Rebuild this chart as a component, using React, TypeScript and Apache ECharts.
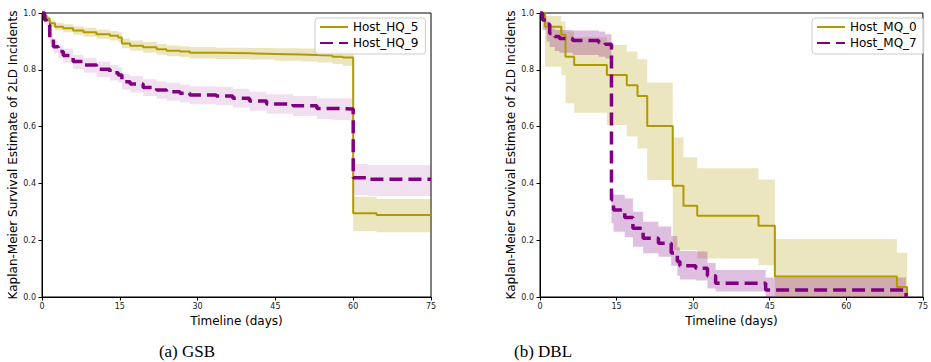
import React, { useEffect, useRef } from "react";
import * as echarts from "echarts";

// ---- GSB (left) ----
const gsbHQ5T = [0, 0.5, 0.9, 1.5, 2.5, 4.1, 6.0, 8.0, 10.5, 13.1, 14.7, 15.4, 17.0, 19.5, 22.1, 24.0, 26.6, 28.5, 33.6, 40.0, 45.0, 50.0, 53.0, 56.0, 58.0, 60.0, 64.5, 75.0];
const gsbHQ5S = [1.0, 0.99, 0.981, 0.964, 0.952, 0.946, 0.938, 0.932, 0.925, 0.92, 0.914, 0.893, 0.885, 0.879, 0.872, 0.867, 0.864, 0.86, 0.858, 0.856, 0.854, 0.852, 0.85, 0.846, 0.843, 0.295, 0.289, 0.289];
const gsbHQ5Lo = [1.0, 0.985, 0.972, 0.952, 0.938, 0.932, 0.923, 0.916, 0.909, 0.903, 0.897, 0.876, 0.867, 0.86, 0.853, 0.848, 0.845, 0.84, 0.838, 0.835, 0.832, 0.829, 0.826, 0.82, 0.814, 0.232, 0.228, 0.228];
const gsbHQ5Hi = [1.0, 0.995, 0.99, 0.976, 0.966, 0.96, 0.953, 0.948, 0.941, 0.937, 0.931, 0.91, 0.903, 0.898, 0.891, 0.886, 0.883, 0.88, 0.878, 0.877, 0.876, 0.875, 0.874, 0.872, 0.871, 0.353, 0.345, 0.345];

const gsbHQ9T = [0, 0.5, 0.9, 1.5, 2.2, 3.1, 4.1, 6.0, 8.0, 10.5, 13.1, 14.7, 15.4, 17.0, 19.5, 22.1, 24.0, 26.6, 28.5, 33.6, 36.8, 40.0, 43.3, 48.4, 53.0, 56.0, 60.0, 62.9, 75.0];
const gsbHQ9S = [1.0, 0.975, 0.958, 0.911, 0.881, 0.864, 0.85, 0.829, 0.817, 0.802, 0.79, 0.782, 0.758, 0.75, 0.738, 0.729, 0.723, 0.717, 0.711, 0.708, 0.70, 0.69, 0.68, 0.673, 0.664, 0.662, 0.42, 0.415, 0.415];
const gsbHQ9Lo = [1.0, 0.96, 0.94, 0.89, 0.858, 0.84, 0.825, 0.803, 0.79, 0.775, 0.762, 0.754, 0.73, 0.72, 0.708, 0.698, 0.691, 0.685, 0.679, 0.675, 0.667, 0.656, 0.645, 0.637, 0.627, 0.623, 0.359, 0.356, 0.356];
const gsbHQ9Hi = [1.0, 0.99, 0.975, 0.93, 0.902, 0.886, 0.874, 0.853, 0.842, 0.828, 0.817, 0.809, 0.785, 0.778, 0.767, 0.759, 0.754, 0.748, 0.742, 0.74, 0.733, 0.723, 0.714, 0.708, 0.7, 0.7, 0.468, 0.465, 0.465];

// ---- DBL (right) ----
const dblMQ0T = [0, 0.96, 4.17, 5.0, 6.7, 13.1, 17.0, 19.1, 21.0, 26.0, 28.1, 30.8, 42.8, 46.0, 69.9, 71.9];
const dblMQ0S = [1.0, 0.952, 0.923, 0.846, 0.817, 0.782, 0.746, 0.708, 0.602, 0.392, 0.321, 0.286, 0.251, 0.072, 0.035, 0.0];
const dblMQ0Lo = [1.0, 0.811, 0.782, 0.682, 0.649, 0.606, 0.565, 0.523, 0.412, 0.165, 0.165, 0.136, 0.112, 0.0, 0.0, 0.0];
const dblMQ0Hi = [1.0, 0.989, 0.97, 0.935, 0.915, 0.887, 0.864, 0.837, 0.755, 0.562, 0.492, 0.453, 0.414, 0.204, 0.156, 0.0];

const dblMQ7T = [0, 0.5, 1.28, 1.9, 2.9, 3.8, 6.4, 11.5, 12.8, 14.0, 14.4, 16.6, 18.2, 20.2, 23.2, 25.7, 26.9, 27.4, 30.5, 32.8, 34.4, 44.2, 71.7];
const dblMQ7S = [1.0, 0.975, 0.96, 0.928, 0.917, 0.91, 0.903, 0.896, 0.89, 0.342, 0.306, 0.28, 0.242, 0.207, 0.189, 0.155, 0.125, 0.11, 0.101, 0.075, 0.048, 0.025, 0.0];
const dblMQ7Lo = [1, 0.94, 0.9, 0.88, 0.866, 0.86, 0.852, 0.846, 0.84, 0.26, 0.23, 0.21, 0.177, 0.154, 0.142, 0.11, 0.075, 0.062, 0.058, 0.03, 0.019, 0.0, 0];
const dblMQ7Hi = [1, 0.99, 0.97, 0.945, 0.94, 0.94, 0.938, 0.935, 0.925, 0.365, 0.36, 0.347, 0.3, 0.265, 0.248, 0.215, 0.175, 0.162, 0.16, 0.12, 0.095, 0.069, 0];

const xTicks = { min: 0, max: 75, interval: 15 };
const yTicks = { min: 0, max: 1, interval: 0.2 };
const captions = ["(a) GSB", "(b) DBL"];

const OLIVE = "#b09a00";
const PURPLE = "#800080";
const FONT = "DejaVu Sans";

function zip(t: number[], v: number[]) {
  return t.map((x, i) => [x, v[i]]);
}

// Confidence band drawn as one step-shaped polygon through the axis scales.
function bandSeries(id: string, t: number[], lo: number[], hi: number[], color: string, idx: number) {
  return {
    name: id,
    type: "custom",
    xAxisIndex: idx,
    yAxisIndex: idx,
    silent: true,
    clip: true,
    encode: { x: 0, y: [1, 2] },
    data: t.map((x, i) => [x, lo[i], hi[i]]),
    renderItem: (params: any, api: any) => {
      if (params.dataIndex !== 0) return null;
      const pts: number[][] = [];
      for (let i = 0; i < t.length; i++) {
        const tNext = i + 1 < t.length ? t[i + 1] : t[i];
        pts.push(api.coord([t[i], hi[i]]));
        pts.push(api.coord([tNext, hi[i]]));
      }
      for (let i = t.length - 1; i >= 0; i--) {
        const tNext = i + 1 < t.length ? t[i + 1] : t[i];
        pts.push(api.coord([tNext, lo[i]]));
        pts.push(api.coord([t[i], lo[i]]));
      }
      return {
        type: "polygon",
        shape: { points: pts },
        style: { fill: color, stroke: "none" },
      };
    },
  };
}

function mainSeries(name: string, t: number[], s: number[], color: string, dashed: boolean, idx: number) {
  return {
    name,
    type: "line",
    xAxisIndex: idx,
    yAxisIndex: idx,
    step: "end",
    symbol: "none",
    showSymbol: false,
    clip: false,
    color,
    lineStyle: dashed ? { color, width: 3.5, type: [13, 6] } : { color, width: 2, type: "solid" },
    itemStyle: { color },
    data: zip(t, s),
  };
}

function axisX(idx: number) {
  return {
    gridIndex: idx,
    type: "value",
    ...xTicks,
    name: "Timeline (days)",
    nameLocation: "middle",
    nameGap: 15,
    nameTextStyle: { fontSize: 12, color: "#000", fontFamily: FONT },
    axisLine: { show: true, onZero: false, lineStyle: { color: "#000", width: 1 } },
    axisTick: { show: true, length: 3.5, lineStyle: { color: "#000", width: 1 } },
    axisLabel: { fontSize: 8, color: "#222", margin: 5, fontFamily: FONT },
    splitLine: { show: false },
  };
}

function axisY(idx: number) {
  return {
    gridIndex: idx,
    type: "value",
    ...yTicks,
    name: "Kaplan-Meier Survival Estimate of 2LD Incidents",
    nameLocation: "middle",
    nameGap: 22,
    nameTextStyle: { fontSize: 12, color: "#000", fontFamily: FONT },
    axisLine: { show: true, onZero: false, lineStyle: { color: "#000", width: 1 } },
    axisTick: { show: true, length: 3.5, lineStyle: { color: "#000", width: 1 } },
    axisLabel: { fontSize: 8, color: "#222", margin: 6, fontFamily: FONT, formatter: (v: number) => v.toFixed(1) },
    splitLine: { show: false },
  };
}

function legend(names: string[], left: number) {
  return {
    data: names,
    left,
    top: 18,
    orient: "vertical",
    itemWidth: 28,
    itemHeight: 14,
    itemGap: 4,
    padding: [3, 7, 5, 4],
    backgroundColor: "rgba(255,255,255,0.8)",
    borderColor: "#cccccc",
    borderWidth: 1,
    borderRadius: 3,
    itemStyle: { opacity: 0 },
    textStyle: { fontSize: 12, color: "#000", fontFamily: FONT },
    selectedMode: false,
  };
}

export default function App() {
  const ref = useRef<HTMLDivElement>(null);
  useEffect(() => {
    if (!ref.current) return;
    const chart = echarts.init(ref.current, undefined, { renderer: "svg" });
    const option = {
      animation: false,
      backgroundColor: "#fff",
      grid: [
        { left: 42, top: 13, width: 389, height: 284, show: true, borderColor: "#000", borderWidth: 1, backgroundColor: "transparent" },
        { left: 540, top: 13, width: 390, height: 284, show: true, borderColor: "#000", borderWidth: 1, backgroundColor: "transparent" },
      ],
      xAxis: [axisX(0), axisX(1)],
      yAxis: [axisY(0), axisY(1)],
      legend: [legend(["Host_HQ_5", "Host_HQ_9"], 315), legend(["Host_MQ_0", "Host_MQ_7"], 812)],
      series: [
        bandSeries("bandHQ5", gsbHQ5T, gsbHQ5Lo, gsbHQ5Hi, "rgba(176,154,0,0.25)", 0),
        bandSeries("bandHQ9", gsbHQ9T, gsbHQ9Lo, gsbHQ9Hi, "rgba(128,0,128,0.12)", 0),
        mainSeries("Host_HQ_5", gsbHQ5T, gsbHQ5S, OLIVE, false, 0),
        mainSeries("Host_HQ_9", gsbHQ9T, gsbHQ9S, PURPLE, true, 0),
        bandSeries("bandMQ0", dblMQ0T, dblMQ0Lo, dblMQ0Hi, "rgba(176,154,0,0.25)", 1),
        bandSeries("bandMQ7", dblMQ7T, dblMQ7Lo, dblMQ7Hi, "rgba(128,0,128,0.25)", 1),
        mainSeries("Host_MQ_0", dblMQ0T, dblMQ0S, OLIVE, false, 1),
        mainSeries("Host_MQ_7", dblMQ7T, dblMQ7S, PURPLE, true, 1),
      ],
      graphic: [
        {
          type: "text",
          x: 187,
          y: 351,
          style: { text: captions[0], font: '17px "Liberation Serif"', fill: "#000", align: "center", verticalAlign: "middle" },
        },
        {
          type: "text",
          x: 543,
          y: 351,
          style: { text: captions[1], font: '17px "Liberation Serif"', fill: "#000", align: "center", verticalAlign: "middle" },
        },
      ],
    };
    chart.setOption(option as any);
    return () => chart.dispose();
  }, []);
  return (
    <div
      ref={ref}
      style={{ position: "absolute", left: 0, top: 0, width: 931, height: 362 }}
    />
  );
}
